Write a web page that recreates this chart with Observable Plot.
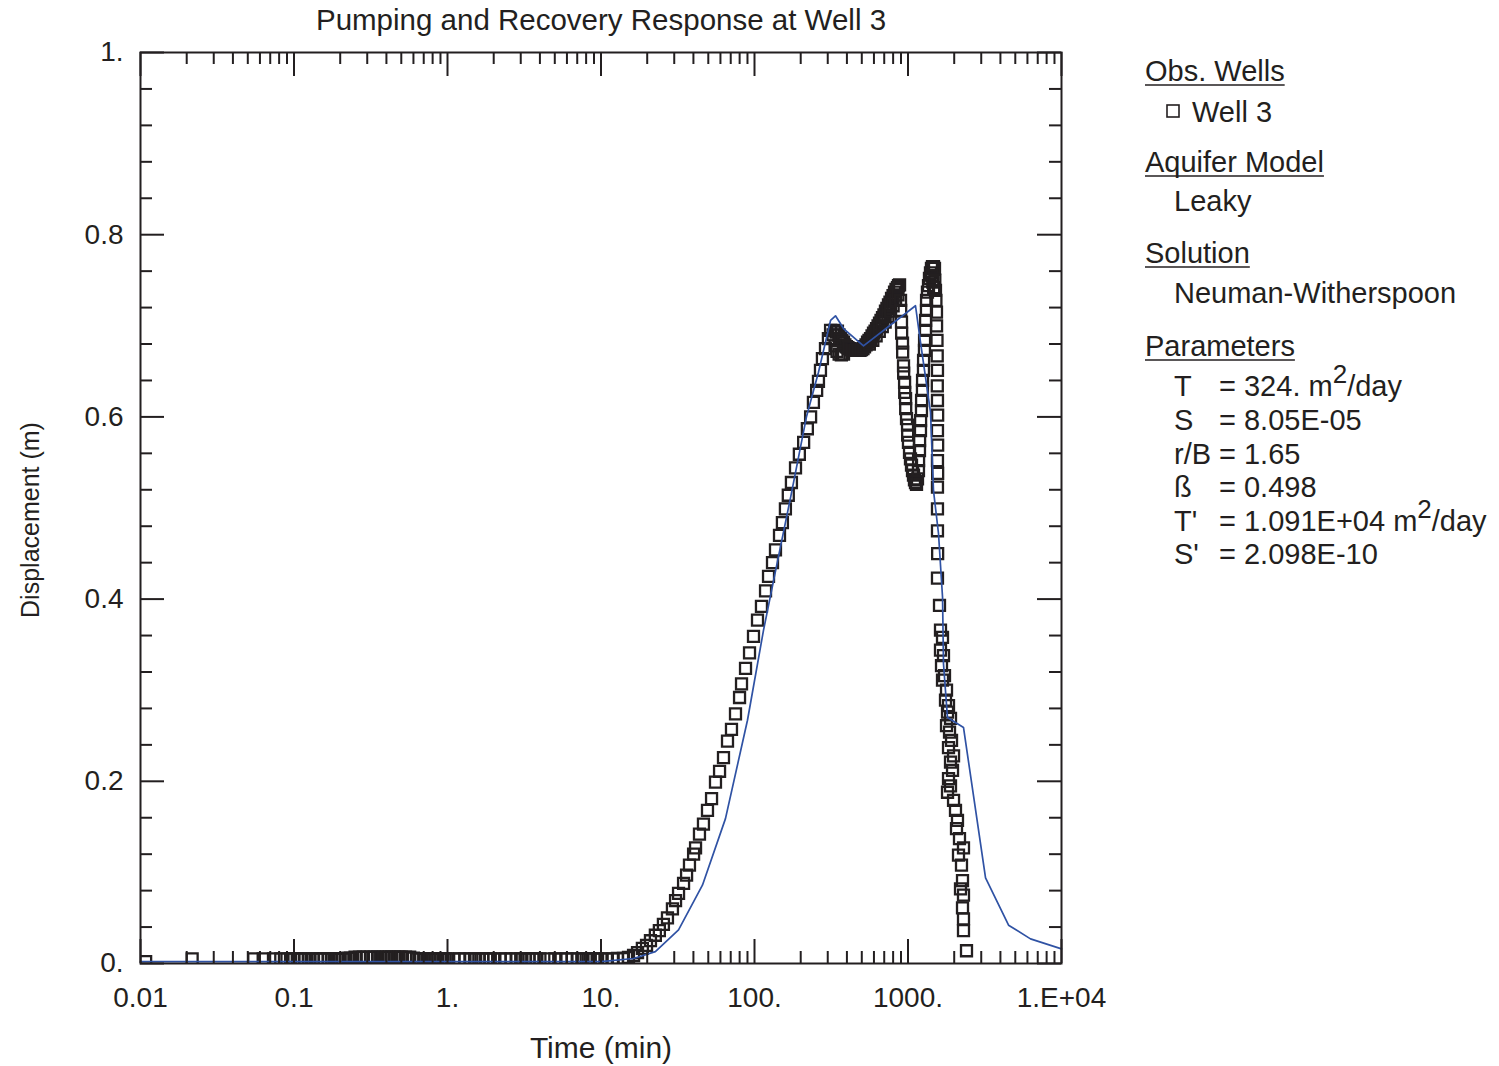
<!DOCTYPE html>
<html><head><meta charset="utf-8">
<script src="https://cdn.jsdelivr.net/npm/d3@7"></script>
<script src="https://cdn.jsdelivr.net/npm/@observablehq/plot@0.6"></script>
<style>
html,body{margin:0;padding:0;background:#fff;}
#chart{width:1499px;height:1066px;position:relative;}
</style></head><body><div id="chart"></div>
<script>
// ---------- DATA ----------
const chartTitle = "Pumping and Recovery Response at Well 3";
const xAxisTitle = "Time (min)";
const yAxisTitle = "Displacement (m)";

const xTickValues = [0.01, 0.1, 1, 10, 100, 1000, 10000];
const xTickLabels = ["0.01", "0.1", "1.", "10.", "100.", "1000.", "1.E+04"];
const yTickValues = [0, 0.2, 0.4, 0.6, 0.8, 1];
const yTickLabels = ["0.", "0.2", "0.4", "0.6", "0.8", "1."];

// observed displacement, Well 3 (time in min, displacement in m)
const obsTime = [
  0.0108, 0.0217, 0.0547, 0.063, 0.0735, 0.082, 0.09, 0.095, 0.1, 0.105,
  0.11, 0.117, 0.125, 0.133, 0.142, 0.15, 0.158, 0.167, 0.175, 0.183,
  0.192, 0.2, 0.208, 0.217, 0.225, 0.233, 0.25, 0.267, 0.283, 0.3,
  0.317, 0.333, 0.35, 0.367, 0.383, 0.4, 0.417, 0.433, 0.45, 0.467,
  0.483, 0.5, 0.533, 0.567, 0.6, 0.633, 0.667, 0.7, 0.733, 0.767,
  0.8, 0.833, 0.867, 0.9, 0.933, 0.967, 1, 1.1, 1.2, 1.3,
  1.4, 1.5, 1.6, 1.7, 1.8, 1.9, 2, 2.2, 2.4, 2.6,
  2.8, 3, 3.2, 3.4, 3.6, 3.8, 4, 4.5, 5, 5.5,
  6, 6.5, 7, 7.5, 8, 8.5, 9, 9.5, 10, 11,
  12, 12.8, 14.0, 15.1, 16.3, 17.3, 18.6, 19.8, 21.0, 22.6,
  24.0, 25.5, 27.1, 29.2, 30.6, 32.0, 34.5, 36.1, 37.7, 40.1,
  41.3, 43.8, 46.5, 49.4, 52.5, 55.7, 59.2, 62.8, 66.7, 70.8,
  75.2, 79.9, 82.3, 87.4, 92.8, 98.5, 104.6, 111, 118, 123.4,
  131, 137, 145.5, 152, 159, 166, 174, 185, 196, 209,
  221, 232, 242, 254, 261, 269, 277, 290, 303, 313,
  325, 332, 340, 347, 355, 363, 371, 380, 388, 397,
  335, 345, 356, 368, 380,
  406, 416, 425, 435, 445, 455, 465, 476, 487, 498,
  509, 521, 533, 545, 557, 570, 583, 596, 610, 624,
  638, 652, 667, 682, 697, 713, 729, 746, 763, 781,
  799, 817, 835, 854, 867, 881,
  560, 590, 620, 650, 680, 710, 740, 770, 800, 830, 860,
  894, 896, 907, 909, 921, 923, 935, 937, 950, 952,
  964, 966, 978, 993, 995, 1007, 1023, 1038, 1054, 1070,
  1086, 1102, 1119, 1136,
  1153, 1170, 1172, 1188, 1190, 1206, 1208, 1224, 1226, 1242,
  1244, 1261, 1263, 1280, 1282, 1300, 1302, 1319, 1321, 1339,
  1360, 1380, 1401, 1422, 1444, 1466, 1488, 1430, 1450, 1470,
  1495, 1510, 1520, 1533, 1535, 1545, 1550, 1556, 1552, 1556,
  1560, 1556, 1560, 1556, 1560, 1556, 1556, 1556, 1560, 1556,
  1604, 1628, 1678, 1628, 1703, 1653, 1729, 1678, 1782, 1755,
  1836, 1809, 1892, 1782, 1864, 1921, 1836, 1980, 1892, 1950,
  1836, 1892, 1809, 1980, 2039, 2101, 2070, 2165, 2299, 2133,
  2231, 2265, 2198, 2299, 2265, 2299, 2299, 2405
];
const obsDisp = [
  0.002, 0.005, 0.005, 0.005, 0.005, 0.005, 0.005, 0.005, 0.005, 0.005,
  0.005, 0.005, 0.005, 0.005, 0.005, 0.005, 0.005, 0.005, 0.005, 0.005,
  0.005, 0.005, 0.005, 0.005, 0.006, 0.006, 0.007, 0.007, 0.007, 0.007,
  0.007, 0.007, 0.007, 0.007, 0.007, 0.007, 0.007, 0.007, 0.007, 0.007,
  0.007, 0.007, 0.007, 0.007, 0.006, 0.005, 0.005, 0.005, 0.005, 0.005,
  0.005, 0.005, 0.005, 0.005, 0.005, 0.005, 0.005, 0.005, 0.005, 0.005,
  0.005, 0.005, 0.005, 0.005, 0.005, 0.005, 0.005, 0.005, 0.005, 0.005,
  0.005, 0.005, 0.005, 0.005, 0.005, 0.005, 0.005, 0.005, 0.005, 0.005,
  0.005, 0.005, 0.005, 0.005, 0.005, 0.005, 0.005, 0.005, 0.005, 0.005,
  0.005, 0.0055, 0.0055, 0.0066, 0.0088, 0.012, 0.0165, 0.0198, 0.025, 0.031,
  0.036, 0.043, 0.050, 0.060, 0.069, 0.077, 0.088, 0.097, 0.108, 0.120,
  0.127, 0.142, 0.153, 0.168, 0.181, 0.199, 0.211, 0.226, 0.244, 0.257,
  0.274, 0.292, 0.307, 0.324, 0.341, 0.359, 0.377, 0.392, 0.409, 0.425,
  0.440, 0.454, 0.470, 0.484, 0.499, 0.514, 0.528, 0.544, 0.559, 0.572,
  0.587, 0.600, 0.616, 0.629, 0.639, 0.651, 0.664, 0.675, 0.686, 0.695,
  0.690, 0.695, 0.693, 0.694, 0.690, 0.686, 0.684, 0.682, 0.679, 0.677,
  0.678, 0.672, 0.669, 0.668, 0.669,
  0.676, 0.675, 0.674, 0.673, 0.673, 0.673, 0.673, 0.673, 0.673, 0.674,
  0.675, 0.677, 0.679, 0.682, 0.684, 0.686, 0.689, 0.692, 0.694, 0.697,
  0.700, 0.703, 0.706, 0.709, 0.712, 0.716, 0.719, 0.723, 0.726, 0.730,
  0.733, 0.737, 0.740, 0.742, 0.744, 0.745,
  0.680, 0.684, 0.689, 0.694, 0.699, 0.704, 0.710, 0.716, 0.722, 0.728, 0.734,
  0.728, 0.717, 0.704, 0.692, 0.681, 0.671, 0.656, 0.648, 0.638, 0.627,
  0.620, 0.609, 0.598, 0.591, 0.580, 0.572, 0.561, 0.554, 0.547, 0.541,
  0.536, 0.531, 0.528, 0.526,
  0.532, 0.541, 0.552, 0.563, 0.574, 0.585, 0.596, 0.607, 0.618, 0.629,
  0.640, 0.651, 0.662, 0.673, 0.684, 0.695, 0.706, 0.717, 0.728, 0.737,
  0.744, 0.752, 0.758, 0.763, 0.765, 0.765, 0.763, 0.755, 0.748, 0.742,
  0.750, 0.739, 0.728, 0.715, 0.700, 0.684, 0.667, 0.651, 0.634, 0.618,
  0.602, 0.585, 0.569, 0.552, 0.538, 0.523, 0.499, 0.475, 0.450, 0.423,
  0.393, 0.366, 0.358, 0.344, 0.338, 0.327, 0.316, 0.311, 0.300, 0.289,
  0.283, 0.276, 0.269, 0.261, 0.254, 0.245, 0.237, 0.228, 0.221, 0.212,
  0.203, 0.195, 0.188, 0.179, 0.168, 0.157, 0.148, 0.137, 0.127, 0.119,
  0.108, 0.091, 0.082, 0.075, 0.061, 0.049, 0.036, 0.014
];

// fitted Neuman-Witherspoon (leaky) solution
const modelTime = [0.01, 10, 16.3, 22.6, 32, 45.8, 64.7, 90, 114.5, 133,
  172, 218, 261, 313, 337, 380, 513, 1119, 1206, 1402,
  1466, 1580, 1679, 1703, 1808, 2300, 3200, 4520, 6280, 10000];
const modelDisp = [0.002, 0.002, 0.0055, 0.013, 0.037, 0.086, 0.159, 0.267, 0.366, 0.42,
  0.512, 0.6, 0.649, 0.706, 0.711, 0.697, 0.678, 0.722, 0.682, 0.605,
  0.519, 0.472, 0.402, 0.329, 0.27, 0.259, 0.094, 0.042, 0.027, 0.016];

// legend text
const legendObsHeading = "Obs. Wells";
const legendWell = "Well 3";
const legendAquiferHeading = "Aquifer Model";
const legendAquifer = "Leaky";
const legendSolutionHeading = "Solution";
const legendSolution = "Neuman-Witherspoon";
const legendParamHeading = "Parameters";
const paramNames = ["T", "S", "r/B", "ß", "T'", "S'"];
const paramValues = ["324.", "8.05E-05", "1.65", "0.498", "1.091E+04", "2.098E-10"];
const paramUnits = ["m2/day", "", "", "", "m2/day", ""];

// ---------- CHART ----------
const FONT = "'Liberation Sans', Arial, Helvetica, sans-serif";
const INK = "#231f20";
const BLUE = "#2f52a4";
const W = 1499, H = 1066, ML = 140, MR = 438, MT = 52, MB = 103;
const FW = W - ML - MR, FH = H - MT - MB;
const MAJ = 24, MIN = 12;

const obs = obsTime.map((t, i) => ({t, d: obsDisp[i]}));
const model = modelTime.map((t, i) => ({t, d: modelDisp[i]}));

const minorX = [];
for (const dec of [0.01, 0.1, 1, 10, 100, 1000]) for (let m = 2; m <= 9; m++) minorX.push(+(dec * m).toPrecision(3));
const minorY = d3.range(1, 25).map(i => +(i * 0.04).toFixed(2)).filter(v => Math.round(v * 100) % 20 !== 0);

const xLab = new Map(xTickValues.map((v, i) => [v, xTickLabels[i]]));
const yLab = new Map(yTickValues.map((v, i) => [v, yTickLabels[i]]));
const tickStyle = {stroke: INK, strokeWidth: 2};

const chart = Plot.plot({
  width: W, height: H,
  marginLeft: ML, marginRight: MR, marginTop: MT, marginBottom: MB,
  style: {fontFamily: FONT, fontSize: "28px", color: INK, background: "white"},
  x: {type: "log", domain: [0.01, 10000]},
  y: {domain: [0, 1]},
  marks: [
    Plot.dot(obs, {x: "t", y: "d", symbol: "square", r: 6.2, stroke: INK, strokeWidth: 2.3, fill: "none", clip: true}),
    Plot.line(model, {x: "t", y: "d", stroke: BLUE, strokeWidth: 1.7}),
    Plot.ruleX(xTickValues, {...tickStyle, insetTop: FH - MAJ}),
    Plot.ruleX(xTickValues, {...tickStyle, insetBottom: FH - MAJ}),
    Plot.ruleX(minorX, {...tickStyle, insetTop: FH - MIN}),
    Plot.ruleX(minorX, {...tickStyle, insetBottom: FH - MIN}),
    Plot.ruleY(yTickValues, {...tickStyle, insetRight: FW - MAJ}),
    Plot.ruleY(yTickValues, {...tickStyle, insetLeft: FW - MAJ}),
    Plot.ruleY(minorY, {...tickStyle, insetRight: FW - MIN}),
    Plot.ruleY(minorY, {...tickStyle, insetLeft: FW - MIN}),
    Plot.frame({stroke: INK, strokeWidth: 2}),
    Plot.axisX({ticks: xTickValues, tickFormat: d => xLab.get(d), tickSize: 0, tickPadding: 24, label: null, fontSize: 28, fill: INK}),
    Plot.axisY({ticks: yTickValues, tickFormat: d => yLab.get(d), tickSize: 0, tickPadding: 17, label: null, fontSize: 28, fill: INK}),
    Plot.text([xAxisTitle], {text: d => d, frameAnchor: "bottom", lineAnchor: "middle", textAnchor: "middle", dy: 85, fontSize: 30, fill: INK}),
    Plot.text([yAxisTitle], {text: d => d, frameAnchor: "left", lineAnchor: "middle", textAnchor: "middle", dx: -110, dy: 12, rotate: -90, fontSize: 25, fill: INK}),
    Plot.text([chartTitle], {text: d => d, frameAnchor: "top", lineAnchor: "middle", textAnchor: "middle", dy: -32, fontSize: 29.5, fill: INK})
  ]
});
document.getElementById("chart").appendChild(chart);

// ---------- LEGEND (right side) ----------
const svg = d3.select(chart);
const g = svg.append("g").attr("font-family", FONT).attr("font-size", 29).attr("fill", INK).attr("text-anchor", "start");
function heading(text, x, y) {
  const t = g.append("text").attr("x", x).attr("y", y).text(text);
  const w = t.node().getComputedTextLength();
  g.append("line").attr("x1", x).attr("x2", x + w).attr("y1", y + 4).attr("y2", y + 4)
    .attr("stroke", INK).attr("stroke-width", 1.6);
}
function plain(text, x, y) { return g.append("text").attr("x", x).attr("y", y).text(text); }

heading(legendObsHeading, 1145, 81);
g.append("rect").attr("x", 1167).attr("y", 105).attr("width", 12).attr("height", 12)
  .attr("fill", "none").attr("stroke", INK).attr("stroke-width", 1.6);
plain(legendWell, 1192, 122);
heading(legendAquiferHeading, 1145, 172);
plain(legendAquifer, 1174, 211);
heading(legendSolutionHeading, 1145, 263);
plain(legendSolution, 1174, 303);
heading(legendParamHeading, 1145, 356);
const rowY = [396, 430, 463.5, 497, 531, 564];
paramNames.forEach((name, i) => {
  plain(name, 1174, rowY[i]);
  const t = plain("", 1219, rowY[i]);
  t.append("tspan").text("= " + paramValues[i] + (paramUnits[i] ? " m" : ""));
  if (paramUnits[i]) {
    t.append("tspan").attr("dy", -13).attr("font-size", 26).text("2");
    t.append("tspan").attr("dy", 13).text("/day");
  }
});
</script>
</body></html>
